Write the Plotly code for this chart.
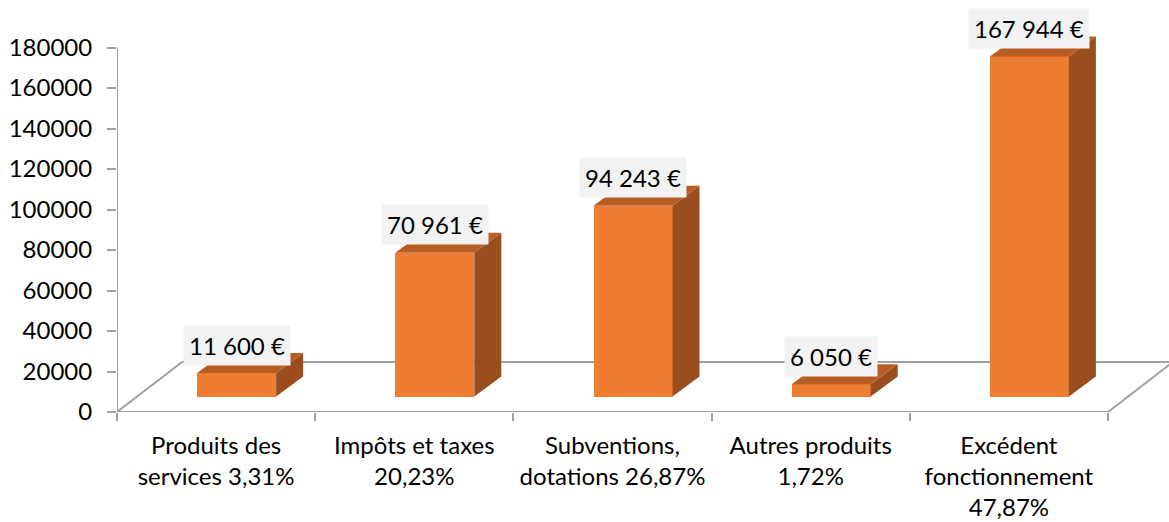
import plotly.graph_objects as go

# ---- data ----
categories = ["Produits des<br>services 3,31%", "Impôts et taxes<br>20,23%",
              "Subventions,<br>dotations 26,87%", "Autres produits<br>1,72%",
              "Excédent<br>fonctionnement<br>47,87%"]
values = [11600, 70961, 94243, 6050, 167944]
value_labels = ["11 600 €", "70 961 €", "94 243 €", "6 050 €", "167 944 €"]
y_ticks = [0, 20000, 40000, 60000, 80000, 100000, 120000, 140000, 160000, 180000]

# ---- geometry (pixel-based conversion to data units) ----
W, H = 1169, 522
left_px, bottom_px, top_px = 117, 412, 5
px_per_cat = 198.2
px_per_val = 364.5 / 180000.0
x_min = -0.5
x_max = x_min + (W - left_px) / px_per_cat
y_max = (bottom_px - top_px) / px_per_val

def dxu(px):
    return px / px_per_cat

def dyu(px):
    return px / px_per_val

FRONT = "#ED7D31"
TOP = "#B85E24"
SIDE = "#9A4E1E"
GRID = "#A0A0A0"

shift = dxu(20.5)          # bars sit behind the front edge of the floor
base = dyu(15.5)
bw = dxu(79)
ddx, ddy = dxu(27), dyu(20)

n = len(categories)
xs = [i + shift for i in range(n)]

fig = go.Figure()

fig.add_trace(go.Bar(x=xs, y=values, base=[base] * n, width=bw,
                     marker=dict(color=FRONT, line=dict(width=0)),
                     hoverinfo="skip", showlegend=False))

for i, v in enumerate(values):
    xl, xr = xs[i] - bw / 2, xs[i] + bw / 2
    b, t = base, base + v
    # side face
    fig.add_trace(go.Scatter(x=[xr, xr + ddx, xr + ddx, xr, xr],
                             y=[b, b + ddy, t + ddy, t, b],
                             fill="toself", fillcolor=SIDE, mode="lines",
                             line=dict(width=0, color=SIDE), hoverinfo="skip",
                             showlegend=False))
    # top face
    fig.add_trace(go.Scatter(x=[xl, xl + ddx, xr + ddx, xr, xl],
                             y=[t, t + ddy, t + ddy, t, t],
                             fill="toself", fillcolor=TOP, mode="lines",
                             line=dict(width=0, color=TOP), hoverinfo="skip",
                             showlegend=False))
    fig.add_annotation(x=xs[i], y=t + dyu(28), text=value_labels[i],
                       showarrow=False, bgcolor="#F2F2F2", borderpad=5,
                       font=dict(family="Lato", size=24, color="#000000"),
                       xanchor="center", yanchor="middle")

# floor and vertical axis lines
fdx, fdy = dxu(65), dyu(50)
x_lo, x_hi = -0.5, n - 0.5
line = dict(color=GRID, width=2)
fig.add_shape(type="line", x0=x_lo, y0=0, x1=x_hi, y1=0, line=line, layer="below")
fig.add_shape(type="line", x0=x_lo, y0=0, x1=x_lo + fdx, y1=fdy, line=line, layer="below")
fig.add_shape(type="line", x0=x_lo + fdx, y0=fdy, x1=x_hi + fdx, y1=fdy, line=line, layer="below")
fig.add_shape(type="line", x0=x_hi, y0=0, x1=x_hi + fdx, y1=fdy, line=line, layer="below")
fig.add_shape(type="line", x0=x_lo, y0=0, x1=x_lo, y1=y_ticks[-1], line=line, layer="below")

fig.update_layout(
    width=W, height=H, autosize=False,
    margin=dict(l=left_px, r=0, t=top_px, b=H - bottom_px, pad=0),
    plot_bgcolor="white", paper_bgcolor="white",
    font=dict(family="Lato", size=24, color="#000000"),
    bargap=0,
    xaxis=dict(range=[x_min, x_max], tickmode="array",
               tickvals=list(range(n)), ticktext=categories,
               ticks="", showgrid=False, zeroline=False, showline=False,
               ticklabelstandoff=17,
               minor=dict(tickmode="array", tickvals=[k - 0.5 for k in range(n + 1)],
                          ticks="outside", ticklen=8, tickcolor=GRID, tickwidth=2,
                          showgrid=False)),
    yaxis=dict(range=[0, y_max], tickmode="array", tickvals=y_ticks,
               ticktext=[str(v) for v in y_ticks],
               ticks="outside", ticklen=9, tickcolor=GRID, tickwidth=2,
               showgrid=False, zeroline=False, showline=False,
               ticklabelstandoff=10),
)

fig.write_html("out.html", config={"displayModeBar": False},
               post_script="document.body.style.margin='0';document.body.style.padding='0';")
